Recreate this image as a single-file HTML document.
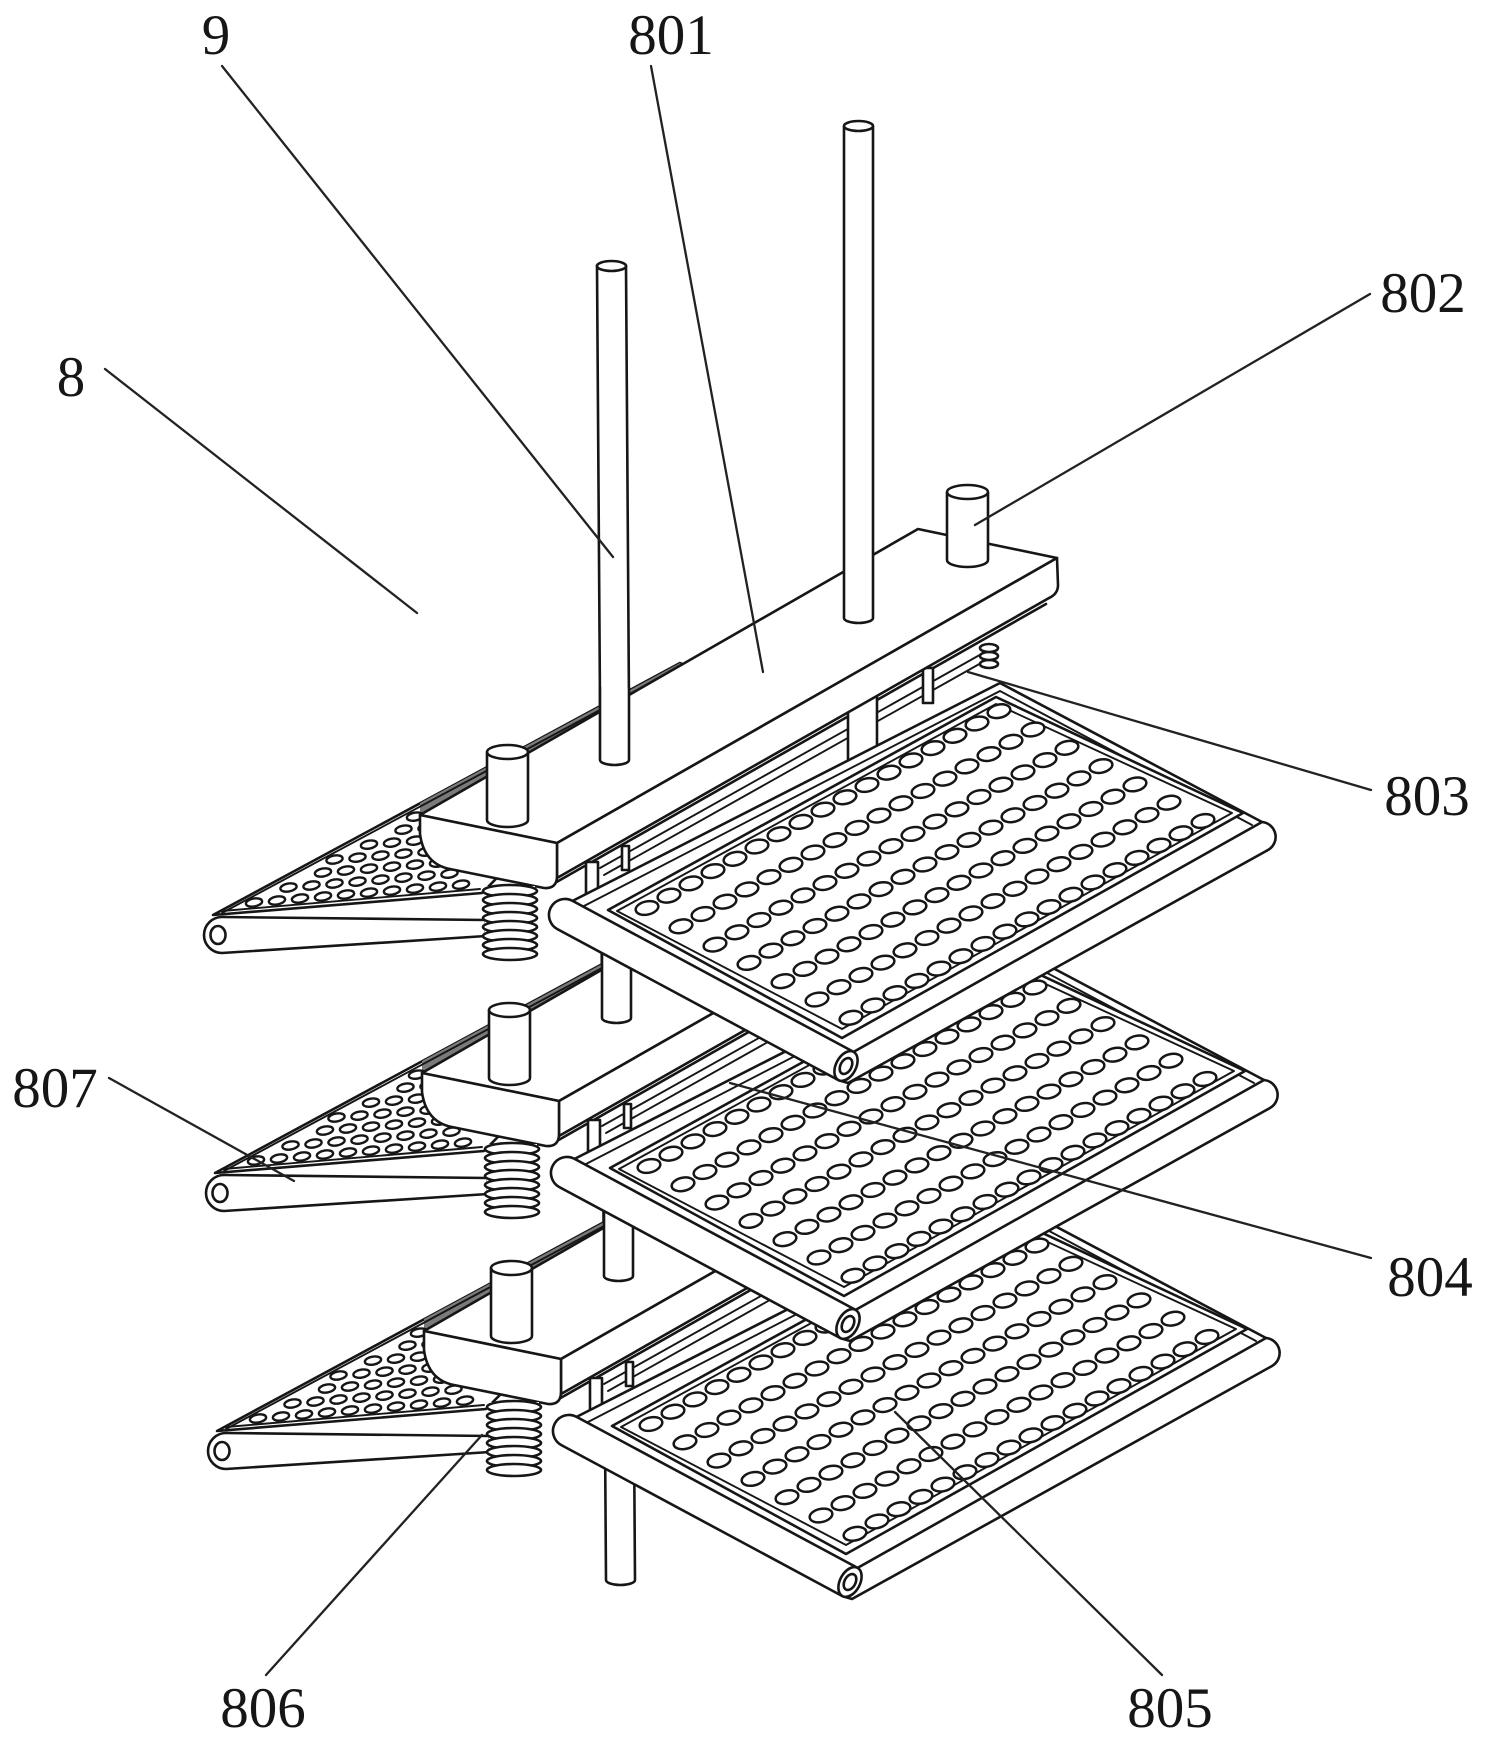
<!DOCTYPE html>
<html><head><meta charset="utf-8"><style>
html,body{margin:0;padding:0;background:#fff;}
svg{display:block;}
text{font-family:"Liberation Serif","DejaVu Serif",serif;font-size:57px;fill:#161616;}
</style></head><body>
<svg width="1488" height="1744" viewBox="0 0 1488 1744" xmlns="http://www.w3.org/2000/svg" xmlns:xlink="http://www.w3.org/1999/xlink">
<defs>
<ellipse id="h" cx="0" cy="0" rx="11.5" ry="6.6" transform="rotate(-12)" fill="#fff" stroke="#161616" stroke-width="2.5"/>
<ellipse id="th" cx="0" cy="0" rx="8.2" ry="4" transform="rotate(-10)" fill="#fff" stroke="#161616" stroke-width="2.4"/>
<g id="hr">
<use xlink:href="#h" x="0" y="0"/>
<use xlink:href="#h" x="22" y="-12.3"/>
<use xlink:href="#h" x="44" y="-24.6"/>
<use xlink:href="#h" x="66" y="-36.9"/>
<use xlink:href="#h" x="88" y="-49.2"/>
<use xlink:href="#h" x="110" y="-61.5"/>
<use xlink:href="#h" x="132" y="-73.8"/>
<use xlink:href="#h" x="154" y="-86.1"/>
<use xlink:href="#h" x="176" y="-98.4"/>
<use xlink:href="#h" x="198" y="-110.7"/>
<use xlink:href="#h" x="220" y="-123"/>
<use xlink:href="#h" x="242" y="-135.3"/>
<use xlink:href="#h" x="264" y="-147.6"/>
<use xlink:href="#h" x="286" y="-159.9"/>
<use xlink:href="#h" x="308" y="-172.2"/>
<use xlink:href="#h" x="330" y="-184.5"/>
<use xlink:href="#h" x="352" y="-196.8"/>
</g>
<g id="tier" fill="#fff" stroke="#161616" stroke-width="2.6" stroke-linejoin="round" stroke-linecap="round">
 <!-- triangle perforated plate (807) -->
 <polygon points="213,915 680,663 700,672 482,893"/>
 <polygon points="420,803 680,663 684,667 420,816" fill="#7a7a7a" stroke="none"/>
 <path d="M222,913 L680,667" fill="none" stroke-width="1.9"/>
 <path d="M222,911 L480,889" fill="none" stroke-width="1.9"/>
 <use xlink:href="#th" x="254" y="902.5"/><use xlink:href="#th" x="277" y="900.5"/><use xlink:href="#th" x="300" y="898.5"/><use xlink:href="#th" x="323" y="896.5"/><use xlink:href="#th" x="346" y="894.5"/><use xlink:href="#th" x="369" y="892.6"/><use xlink:href="#th" x="392" y="890.6"/><use xlink:href="#th" x="415" y="888.6"/><use xlink:href="#th" x="438" y="886.6"/><use xlink:href="#th" x="461" y="884.6"/>
 <use xlink:href="#th" x="288.5" y="887.5"/><use xlink:href="#th" x="311.5" y="885.5"/><use xlink:href="#th" x="334.5" y="883.5"/><use xlink:href="#th" x="357.5" y="881.6"/><use xlink:href="#th" x="380.5" y="879.6"/><use xlink:href="#th" x="403.5" y="877.6"/><use xlink:href="#th" x="426.5" y="875.6"/><use xlink:href="#th" x="449.5" y="873.6"/>
 <use xlink:href="#th" x="323" y="872.5"/><use xlink:href="#th" x="346" y="870.5"/><use xlink:href="#th" x="369" y="868.6"/><use xlink:href="#th" x="392" y="866.6"/><use xlink:href="#th" x="415" y="864.6"/><use xlink:href="#th" x="438" y="862.6"/><use xlink:href="#th" x="461" y="860.6"/>
 <use xlink:href="#th" x="334.5" y="859.5"/><use xlink:href="#th" x="357.5" y="857.6"/><use xlink:href="#th" x="380.5" y="855.6"/><use xlink:href="#th" x="403.5" y="853.6"/><use xlink:href="#th" x="426.5" y="851.6"/><use xlink:href="#th" x="449.5" y="849.6"/>
 <use xlink:href="#th" x="369" y="844.6"/><use xlink:href="#th" x="392" y="842.6"/><use xlink:href="#th" x="415" y="840.6"/><use xlink:href="#th" x="438" y="838.6"/>
 <use xlink:href="#th" x="403.5" y="829.6"/><use xlink:href="#th" x="426.5" y="827.6"/>
 <use xlink:href="#th" x="415" y="816.6"/>
 <!-- rails region under plate -->
 <polygon points="546,889 546,870 1058,585 1064,600 1064,650 1000,705 570,928" stroke="none"/>
 <path d="M546,888 L1046,604" fill="none"/>
 <path d="M600,868 L985,652 M604,875 L990,658" fill="none" stroke-width="1.9"/>
 <rect x="848" y="650" width="29" height="115"/>
 <rect x="586" y="862" width="12" height="33"/>
 <rect x="622" y="846" width="7" height="24"/>
 <rect x="923" y="668" width="10" height="35"/>
 <ellipse cx="989" cy="664" rx="9" ry="4"/>
 <ellipse cx="989" cy="656" rx="9" ry="4"/>
 <ellipse cx="989" cy="648" rx="9" ry="4"/>
 <!-- top plate (801) -->
 <polygon points="420,815 557,843 1057,558 918,529"/>
 <path d="M557,843 L1057,558 L1058,585 Q1058,594 1049,598 L557,878 Z"/>
 <path d="M420,815 L557,843 L557,876 Q557,889 544,888 L450,869 Q424,864 420,834 Z"/>
 <!-- pole segment above plate -->
 <rect x="600" y="688" width="29" height="72" stroke="none"/>
 <path d="M600,688 V760 A14.5,5 0 0 0 629,760 V688" fill="none"/>
 <!-- pin on block -->
 <rect x="487" y="752" width="41" height="68" stroke="none"/>
 <path d="M487,752 V820 A20.5,7 0 0 0 528,820 V752" fill="none"/>
 <ellipse cx="507.5" cy="752" rx="20.5" ry="7"/>
 <!-- triangle tube -->
 <path d="M486,920 L222,917 A18,18 0 0 0 222,953 L486,936 Z"/>
 <ellipse cx="218" cy="935" rx="7.5" ry="9"/>
 <!-- spring (806) -->
 <rect x="485" y="886" width="50" height="70" stroke="none"/>
 <ellipse cx="510" cy="891" rx="27" ry="6"/>
 <ellipse cx="510" cy="900" rx="27" ry="6"/>
 <ellipse cx="510" cy="909" rx="27" ry="6"/>
 <ellipse cx="510" cy="918" rx="27" ry="6"/>
 <ellipse cx="510" cy="927" rx="27" ry="6"/>
 <ellipse cx="510" cy="936" rx="27" ry="6"/>
 <ellipse cx="510" cy="945" rx="27" ry="6"/>
 <ellipse cx="510" cy="954" rx="27" ry="6"/>
 <!-- shelf (805) -->
 <path d="M557.4,929.1 A16,16 0 0 1 572.6,900.9 L1000,683 L1262,822 A15,15 0 0 1 1268,850 L848,1083 L838.4,1080.1 Z"/>
 <path d="M584,906 L1000,691 L1252,825" fill="none" stroke-width="1.9"/>
 <path d="M572.6,900.9 L853.6,1051.9 L1262,822" fill="none"/>
 <polygon points="608,910 842,1038 1243,813 996,697"/>
 <polygon points="617,911 842,1029 1232,813 996,704" fill="none" stroke-width="1.9"/>
 <g transform="rotate(-61.8 846 1066)"><ellipse cx="846" cy="1066" rx="16" ry="10"/><ellipse cx="846" cy="1066" rx="8.5" ry="5.5"/></g>
 <use xlink:href="#hr" x="647" y="908"/>
 <use xlink:href="#hr" x="681" y="926.3"/>
 <use xlink:href="#hr" x="715" y="944.6"/>
 <use xlink:href="#hr" x="749" y="962.9"/>
 <use xlink:href="#hr" x="783" y="981.2"/>
 <use xlink:href="#hr" x="817" y="999.5"/>
 <use xlink:href="#hr" x="851" y="1017.8"/>
</g>
</defs>

<rect x="0" y="0" width="1488" height="1744" fill="#fff"/>

<!-- long guide pole (9) -->
<path d="M597,266 L606,1580 A14.5,5 0 0 0 635,1580 L626,266 Z" fill="#fff" stroke="#161616" stroke-width="2.6"/>
<ellipse cx="611.5" cy="266" rx="14.5" ry="5" fill="#fff" stroke="#161616" stroke-width="2.6"/>

<use xlink:href="#tier" transform="translate(4,516)"/>
<use xlink:href="#tier" transform="translate(2,258)"/>
<use xlink:href="#tier"/>

<g fill="#fff" stroke="#161616" stroke-width="2.6" stroke-linejoin="round">
 <!-- right pole -->
 <rect x="844" y="126" width="29" height="492" stroke="none"/>
 <path d="M844,126 V618 A14.5,5 0 0 0 873,618 V126" fill="none"/>
 <ellipse cx="858.5" cy="126" rx="14.5" ry="5"/>
 <!-- pin 802 -->
 <rect x="947" y="492" width="41" height="68" stroke="none"/>
 <path d="M947,492 V560 A20.5,7 0 0 0 988,560 V492" fill="none"/>
 <ellipse cx="967.5" cy="492" rx="20.5" ry="7"/>
</g>

<!-- leader lines -->
<g stroke="#222" stroke-width="2.3" fill="none" stroke-linecap="round">
 <line x1="222" y1="66" x2="613" y2="557"/>
 <line x1="651" y1="66" x2="763" y2="672"/>
 <line x1="1370" y1="294" x2="975" y2="525"/>
 <line x1="105" y1="369" x2="417" y2="613"/>
 <line x1="1371" y1="790" x2="968" y2="672"/>
 <line x1="109" y1="1078" x2="294" y2="1181"/>
 <line x1="1371" y1="1258" x2="730" y2="1083"/>
 <line x1="266" y1="1675" x2="482" y2="1435"/>
 <line x1="1162" y1="1675" x2="895" y2="1412"/>
</g>

<!-- labels -->
<g text-anchor="middle">
 <text x="216" y="54">9</text>
 <text x="671" y="54">801</text>
 <text x="1423" y="312">802</text>
 <text x="71" y="396">8</text>
 <text x="1427" y="815">803</text>
 <text x="1430" y="1296">804</text>
 <text x="55" y="1107">807</text>
 <text x="263" y="1727">806</text>
 <text x="1170" y="1727">805</text>
</g>
</svg>
</body></html>
